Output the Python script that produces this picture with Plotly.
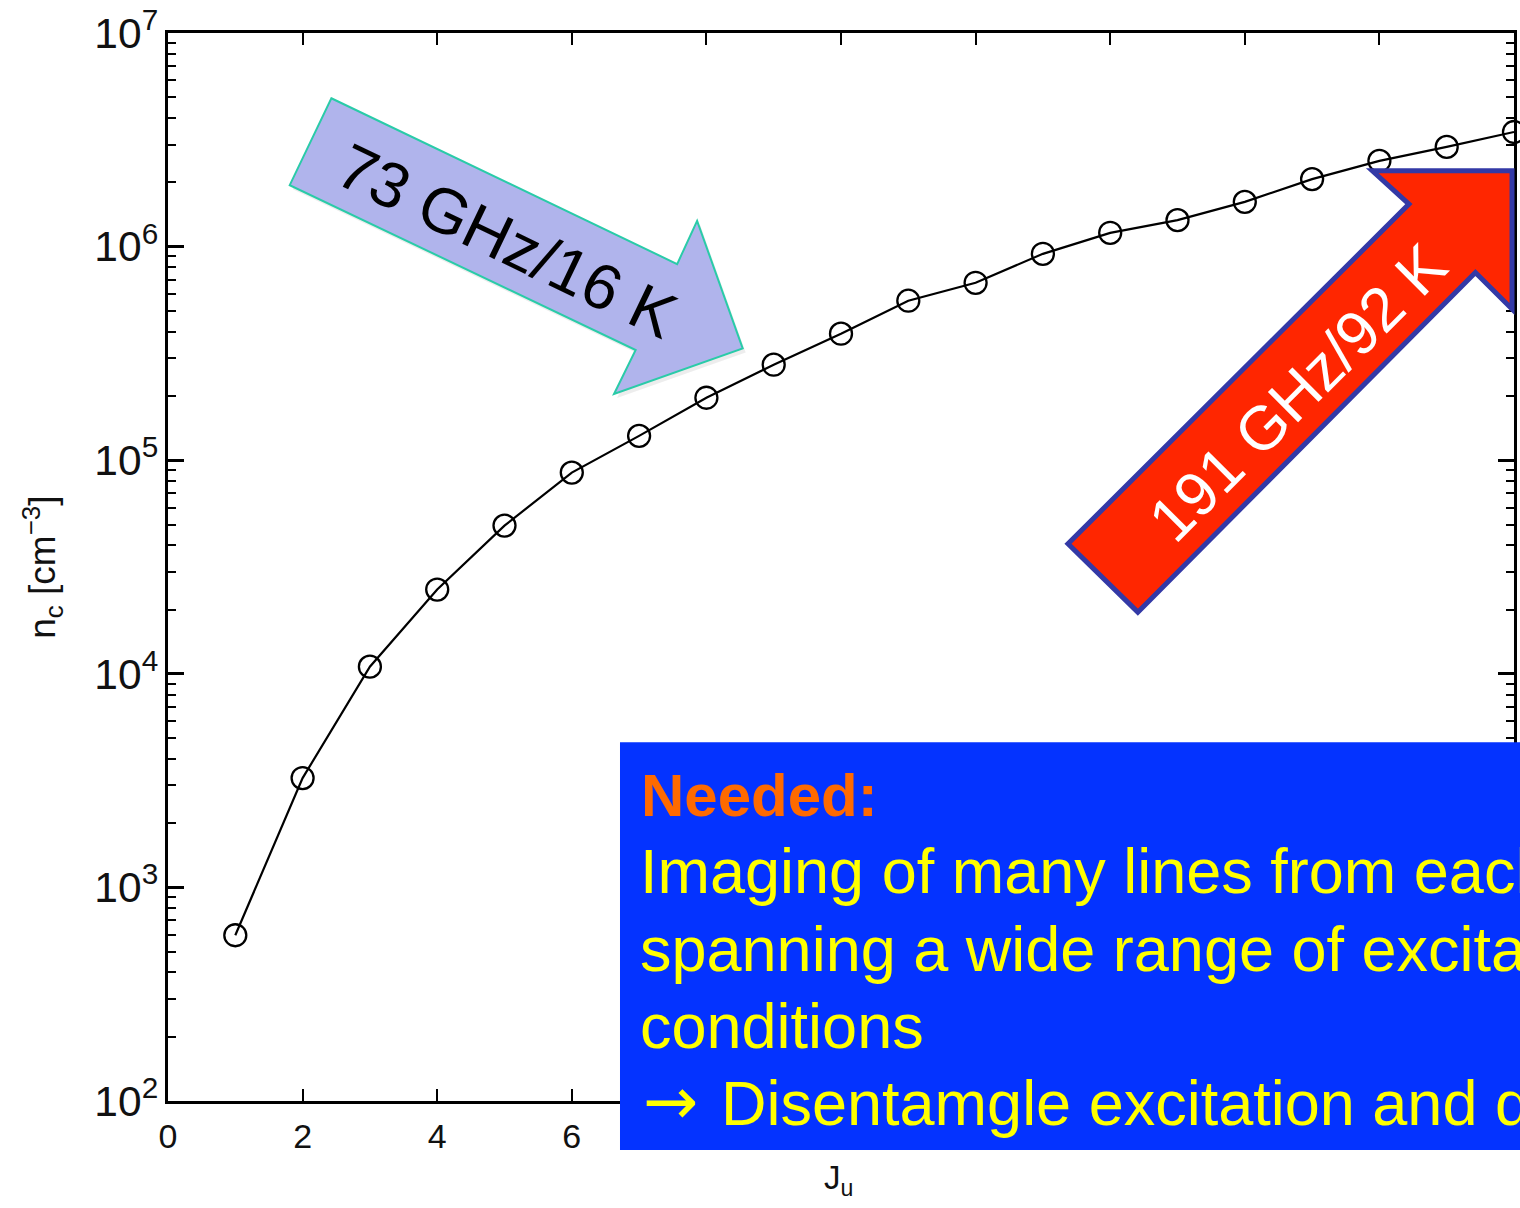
import plotly.graph_objects as go

# ---------------- data ----------------
J_u = list(range(1, 21))
n_crit = [597, 3250, 10800, 24800, 49400, 87500, 130000, 196000, 280000, 391000,
          558000, 677000, 925000, 1160000, 1330000, 1620000, 2070000, 2520000, 2930000, 3440000]

x_ticks = [0, 2, 4, 6, 8, 10, 12, 14, 16, 18, 20]

arrow1_label = "73 GHz/16 K"
arrow2_label = "191 GHz/92 K"
box_head = "Needed:"
box_lines = ["Imaging of many lines from each",
             "spanning a wide range of excitation",
             "conditions",
             "Disentamgle excitation and density"]

# ---------------- layout geometry (pixels) ----------------
W, H = 1520, 1208
L, R, T, B = 168, 1517, 32, 1101


def px(x):
    return (x - L) / (R - L)


def py(y):
    return (B - y) / (B - T)


def path(pts):
    return "M " + " L ".join(f"{px(a):.5f},{py(b):.5f}" for a, b in pts) + " Z"


FONT = "Liberation Sans, Arial, Helvetica, sans-serif"

fig = go.Figure()
fig.add_trace(go.Scatter(
    x=J_u, y=n_crit, mode="lines+markers",
    line=dict(color="black", width=2.2),
    marker=dict(symbol="circle-open", size=22, color="black", line=dict(width=2.3, color="black")),
    showlegend=False, cliponaxis=False,
))

axis_common = dict(
    showline=True, linecolor="black", linewidth=3, mirror="allticks",
    ticks="inside", tickcolor="black", showgrid=False, zeroline=False,
    tickfont=dict(family=FONT, size=34, color="#111111"),
)

fig.update_xaxes(range=[0, 20], tickvals=x_ticks, ticklen=12, tickwidth=2,
                 ticklabelstandoff=3, **axis_common)
fig.update_yaxes(type="log", range=[2, 7], dtick=1, exponentformat="power",
                 ticklen=16, tickwidth=2.5,
                 minor=dict(ticks="inside", ticklen=8, tickwidth=2, tickcolor="black", showgrid=False),
                 **axis_common)

# arrow 1 (blue, pointing down-right)
a1 = [(331.7, 97.3), (678.3, 263.3), (698.3, 220), (744, 347.7), (615, 393.3),
      (636.7, 349.3), (290, 184.3)]
shadow = [(a + 3, b + 4) for a, b in a1]
# arrow 2 (red, pointing up-right)
a2 = [(1070, 543.3), (1411.7, 203.3), (1375, 170), (1515, 170), (1515, 308.3),
      (1478.3, 271.7), (1140, 611.7)]

shapes = [
    dict(type="path", xref="paper", yref="paper", path=path(shadow),
         fillcolor="rgba(0,0,0,0.07)", line=dict(width=0), layer="above"),
    dict(type="path", xref="paper", yref="paper", path=path(a1),
         fillcolor="#B0B4EC", line=dict(color="#2ACBA8", width=2), layer="above"),
    dict(type="path", xref="paper", yref="paper", path=path(a2),
         fillcolor="#FF2600", line=dict(color="#3339A6", width=5), layer="above"),
    dict(type="rect", xref="paper", yref="paper", x0=px(621), x1=px(1530), y0=py(742), y1=py(1150),
         fillcolor="#0433FF", line=dict(width=0), layer="above"),
]

annotations = [
    dict(text=arrow1_label, xref="paper", yref="paper", x=px(508), y=py(240),
         xanchor="center", yanchor="middle", textangle=25.6, showarrow=False,
         font=dict(family=FONT, size=64, color="black")),
    dict(text=arrow2_label, xref="paper", yref="paper", x=px(1300), y=py(392),
         xanchor="center", yanchor="middle", textangle=-45, showarrow=False,
         font=dict(family=FONT, size=62, color="white")),
    dict(text=f"<b>{box_head}</b>", xref="paper", yref="paper", x=px(640), y=py(795),
         xanchor="left", yanchor="middle", showarrow=False,
         font=dict(family=FONT, size=60, color="#FF6A00")),
    dict(text="n<sub>c</sub> [cm<sup>\u22123</sup>]", xref="paper", yref="paper",
         x=px(42), y=py(567), xanchor="center", yanchor="middle", textangle=-90,
         showarrow=False, font=dict(family=FONT, size=37, color="#111111")),
    dict(text="J<sub>u</sub>", xref="paper", yref="paper",
         x=px(840), y=py(1180), xanchor="center", yanchor="middle",
         showarrow=False, font=dict(family=FONT, size=33, color="#111111")),
    dict(text="\u2192", xref="paper", yref="paper", x=px(642), y=py(1102),
         xanchor="left", yanchor="middle", showarrow=False,
         font=dict(family="DejaVu Sans", size=66, color="#FFFF00")),
]

line_y = [871, 949, 1026]
for txt, yy in zip(box_lines[:3], line_y):
    annotations.append(dict(text=txt, xref="paper", yref="paper", x=px(639), y=py(yy),
                            xanchor="left", yanchor="middle", showarrow=False,
                            font=dict(family=FONT, size=63, color="#FFFF00")))
annotations.append(dict(text=box_lines[3], xref="paper", yref="paper", x=px(720), y=py(1103),
                        xanchor="left", yanchor="middle", showarrow=False,
                        font=dict(family=FONT, size=63, color="#FFFF00")))

fig.update_layout(
    width=W, height=H, margin=dict(l=L, r=W - R, t=T, b=H - B),
    paper_bgcolor="white", plot_bgcolor="white",
    shapes=shapes, annotations=annotations,
)

fig.write_html("out.html")
